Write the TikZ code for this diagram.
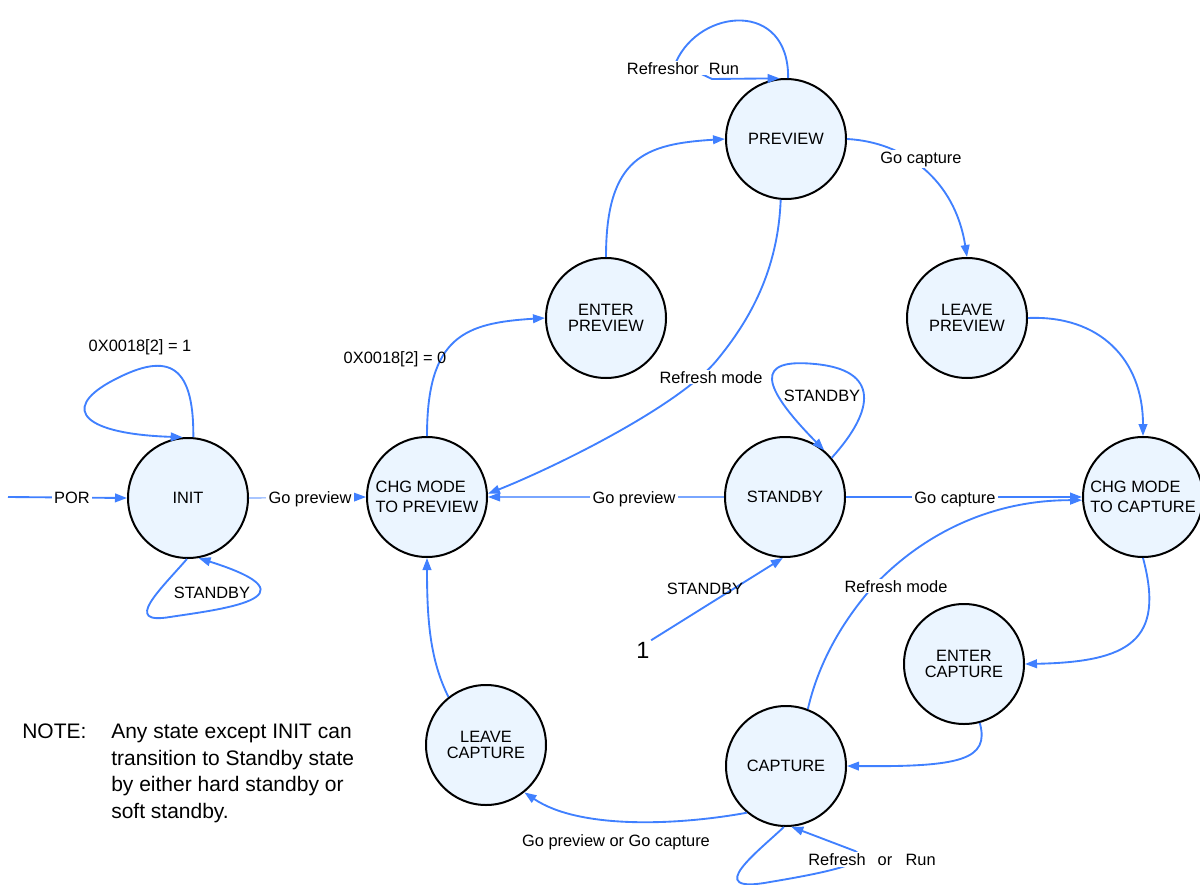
\documentclass[tikz,border=0pt]{standalone}
\usepackage{fontspec}
\setmainfont{Liberation Sans}
\usetikzlibrary{arrows.meta}
\definecolor{wire}{HTML}{4080FF}
\definecolor{statefill}{HTML}{EBF5FF}

\begin{document}
\begin{tikzpicture}[x=0.75pt,y=-0.75pt,
  state/.style={circle,draw=black,line width=1.5pt,fill=statefill,
    minimum size=90pt,inner sep=0pt,align=center,
    font=\fontsize{12.3}{12}\selectfont},
  chgstate/.style={state,align=left,font=\fontsize{12.3}{15}\selectfont},
  edge/.style={draw=wire,line width=1.4pt,
    -{Triangle[length=9pt,width=6.5pt,color=wire]}},
  thinedge/.style={edge,draw=wire!70,line width=0.9pt},
  lbl/.style={font=\fontsize{12.3}{14}\selectfont,inner xsep=2pt,
    inner ysep=1pt,anchor=base},
  cover/.style={lbl,fill=white},
  note/.style={font=\fontsize{15.75}{19.9}\selectfont,inner sep=0pt,
    anchor=north west,align=left},
]
\useasboundingbox (0,0) rectangle (1200,885);

% states
\node[state]    (INIT)  at (188,498) {INIT};
\node[chgstate] (CHGP)  at (427,497) {CHG MODE\\TO PREVIEW};
\node[state]    (ENTP)  at (606,318) {ENTER\\PREVIEW};
\node[state]    (PREV)  at (786,139) {PREVIEW};
\node[state]    (LEAVP) at (967,318) {LEAVE\\PREVIEW};
\node[state]    (STBY)  at (785,497) {STANDBY};
\node[chgstate] (CHGC)  at (1143,497) {CHG MODE\\TO CAPTURE};
\node[state]    (ENTC)  at (964,664) {ENTER\\CAPTURE};
\node[state]    (CAPT)  at (786,766) {CAPTURE};
\node[state]    (LEAVC) at (486,745) {LEAVE\\CAPTURE};

\coordinate (porstart) at (8,497);
\node[inner sep=1pt,anchor=base,font=\fontsize{17.6}{18}\selectfont] (one) at (643,658) {1};

% transitions
\draw[edge] (porstart) -- (INIT.west);
\draw[thinedge] (INIT.east) -- (CHGP.west);
\draw[edge] (INIT.85) .. controls (194,360) and (165,352) .. (110,382)
  .. controls (60,410) and (85,434) .. (INIT.95);
\draw[edge] (INIT.269) .. controls (160,590) and (122,625) .. (170,617)
  .. controls (215,610) and (325,598) .. (INIT.280);
\draw[edge] (CHGP.north) .. controls +(0,-100) and +(-80,5) .. (ENTP.west);
\draw[edge] (ENTP.north) .. controls +(0,-100) and +(-80,5) .. (PREV.west);
\draw[edge] (PREV.88) .. controls (789,0) and (700,8) .. (676,62)
  -- (712,79) -- (PREV.96);
\draw[edge] (PREV.east) .. controls (905,142) and (955,180) .. (LEAVP.north);
\draw[edge] (PREV.265) .. controls (778,270) and (750,320) .. (717,360)
  .. controls (680,405) and (560,465) .. (CHGP.3);
\draw[edge] (STBY.40) .. controls (875,410) and (880,370) .. (815,364)
  .. controls (755,358) and (760,385) .. (STBY.50);
\draw[thinedge] (STBY.west) -- (CHGP.east);
\draw[edge] (STBY.east) -- (CHGC.west);
\draw[edge] (one.north east) -- (STBY.268);
\draw[edge] (CAPT.69) .. controls (818,665) and (840,625) .. (870,590)
  .. controls (920,535) and (990,500) .. (CHGC.183);
\draw[edge] (LEAVP.east) .. controls (1100,315) and (1143,360) .. (CHGC.north);
\draw[edge] (CHGC.south) .. controls (1165,640) and (1130,662) .. (ENTC.east);
\draw[edge] (ENTC.285) .. controls (990,760) and (960,767) .. (CAPT.east);
\draw[edge] (CAPT.230) .. controls (680,825) and (580,830) .. (LEAVC.309);
\draw[edge] (LEAVC.128) .. controls (430,660) and (427,620) .. (CHGP.south);
\draw[edge] (CAPT.268) .. controls (760,850) and (700,895) .. (770,882)
  .. controls (830,872) and (875,862) .. (855,851) -- (CAPT.275);

% transition labels
\node[cover] (lPOR)      at (72,503)  {POR};
\node[lbl]   (lInitTop)  at (140,351) {0X0018[2] = 1};
\node[lbl]   (lInitBot)  at (212,598) {STANDBY};
\node[cover] (lGoPrevA)  at (310,503) {Go preview};
\node[lbl]   (lZero)     at (395,363) {0X0018[2] = 0};
\node[cover] (lPrevLoop) at (683,74)  {Refresh\kern0pt or\hspace{7.5pt}Run};
\node[cover] (lGoCapA)   at (921,163) {Go capture};
\node[cover] (lRefModeA) at (711,383) {Refresh mode};
\node[lbl]   (lStbyLoop) at (822,401) {STANDBY};
\node[cover] (lGoPrevB)  at (634,503) {Go preview};
\node[cover] (lGoCapB)   at (955,503) {Go capture};
\node[lbl]   (lOne)      at (705,594) {STANDBY};
\node[cover] (lRefModeB) at (896,592) {Refresh mode};
\node[lbl]   (lGoBack)   at (616,846) {Go preview or Go capture};
\node[cover] (lCapLoop)  at (872,865) {Refresh\hspace{9pt}or\hspace{10pt}Run};

% note
\node[note] (notehead) at (22,724) {NOTE:};
\node[note] (notebody) at (111,724) {Any state except INIT can\\transition to Standby state\\by either hard standby or\\soft standby.};
\end{tikzpicture}
\end{document}
